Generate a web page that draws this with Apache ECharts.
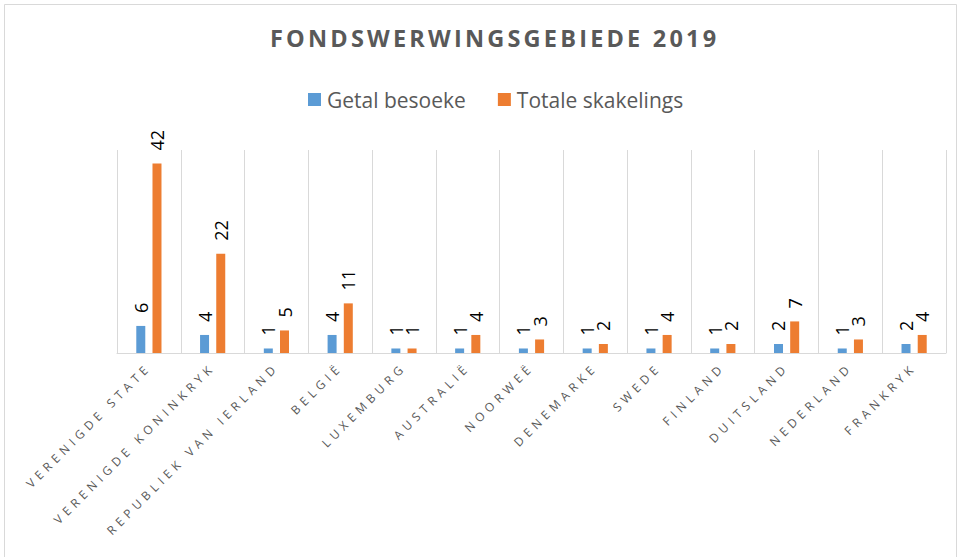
<!DOCTYPE html>
<html>
<head>
<meta charset="utf-8">
<script src="https://cdn.jsdelivr.net/npm/echarts@6/dist/echarts.min.js"></script>
<style>
  html, body { margin: 0; padding: 0; background: #fff; }
  #main { width: 963px; height: 557px; }
  /* letter spacing for the title and the axis labels (svg renderer) */
  text[style*="lsTitle"] { letter-spacing: 3.2px; }
  text[style*="lsAxis"] { letter-spacing: 4.6px; }
</style>
</head>
<body>
<div id="main"></div>
<script>
// data
var landen = ['VERENIGDE STATE', 'VERENIGDE KONINKRYK', 'REPUBLIEK VAN IERLAND', 'BELGIË', 'LUXEMBURG',
  'AUSTRALIË', 'NOORWEË', 'DENEMARKE', 'SWEDE', 'FINLAND', 'DUITSLAND', 'NEDERLAND', 'FRANKRYK'];
var besoeke = [6, 4, 1, 4, 1, 1, 1, 1, 1, 1, 2, 1, 2];
var skakelings = [42, 22, 5, 11, 1, 4, 3, 2, 4, 2, 7, 3, 4];

var myChart = echarts.init(document.getElementById('main'), null, { renderer: 'svg' });

var barLabel = {
    show: true,
    position: 'top',
    rotate: 90,
    align: 'left',
    verticalAlign: 'middle',
    distance: 13,
    color: '#000',
    fontSize: 18,
    fontFamily: 'Open Sans'
};

option = {
    backgroundColor: '#fff',
    title: {
        text: 'FONDSWERWINGSGEBIEDE 2019',
        left: 270,
        top: 26,
        padding: 0,
        textStyle: {
            color: '#595959',
            fontSize: 23.5,
            fontWeight: 'bold',
            fontFamily: "'Open Sans', lsTitle"
        }
    },
    color: ['#5b9bd5', '#ed7d31'],
    legend: {
        top: 89,
        left: 308,
        padding: 0,
        itemWidth: 13,
        itemHeight: 13,
        itemGap: 32,
        icon: 'rect',
        textStyle: { color: '#595959', fontSize: 21, fontFamily: 'Open Sans', padding: [0, 0, 0, 1] }
    },
    graphic: [{
        type: 'rect',
        shape: { x: 4.5, y: 4.5, width: 952, height: 560 },
        style: { fill: null, stroke: '#d9d9d9', lineWidth: 1 },
        silent: true
    }],
    grid: { left: 117, right: 17, top: 150, bottom: 204 },
    xAxis: {
        type: 'category',
        data: landen,
        axisLine: { lineStyle: { color: '#d9d9d9' } },
        axisTick: { show: false },
        splitLine: { show: true, lineStyle: { color: '#d9d9d9' } },
        axisLabel: {
            interval: 0,
            rotate: 45,
            margin: 12,
            color: '#595959',
            fontSize: 12,
            fontFamily: "'Open Sans', lsAxis"
        }
    },
    yAxis: {
        type: 'value',
        min: 0,
        max: 45,
        show: false,
        splitLine: { show: false }
    },
    series: [
        {
            name: 'Getal besoeke',
            type: 'bar',
            data: besoeke,
            barWidth: 9,
            barGap: '80%',
            label: barLabel
        },
        {
            name: 'Totale skakelings',
            type: 'bar',
            data: skakelings,
            barWidth: 9,
            label: barLabel
        }
    ]
};

myChart.setOption(option);
</script>
</body>
</html>
